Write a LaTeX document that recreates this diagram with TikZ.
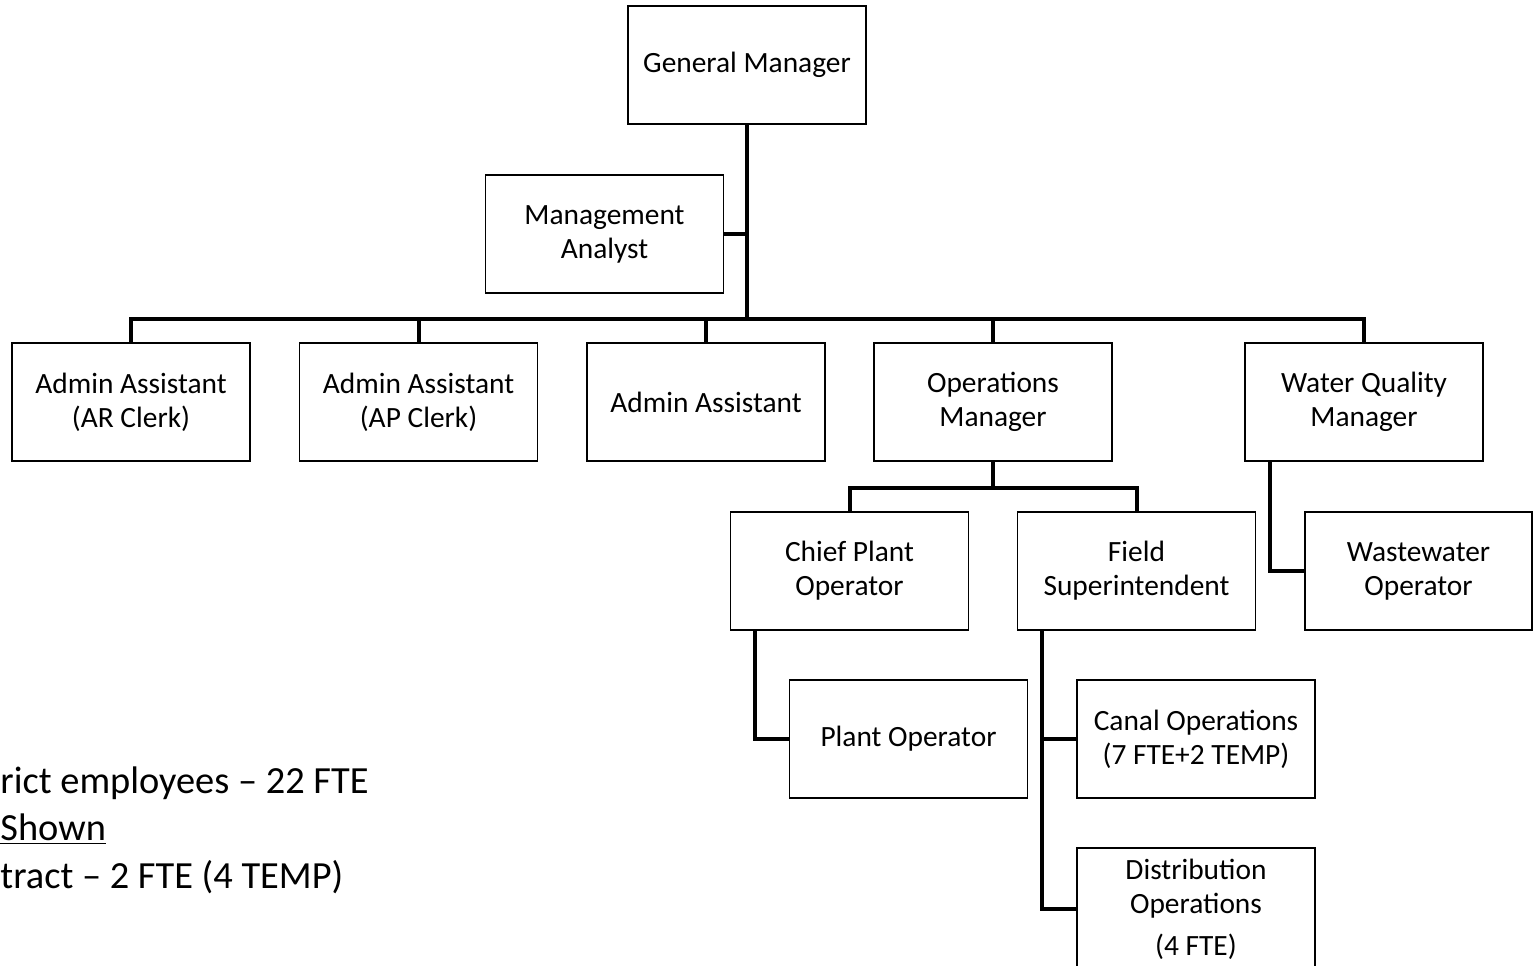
\documentclass[tikz,border=0pt]{standalone}
\usepackage{fontspec}
\setmainfont{Carlito}
\tikzset{
  post/.style={draw, line width=0.7pt, minimum width=119pt, minimum height=59pt,
               align=center, inner sep=2pt, font=\fontsize{14.7}{17}\selectfont},
  link/.style={line width=2pt, line join=miter},
  note/.style={anchor=base west, inner sep=0pt, font=\fontsize{19.2}{23.5}\selectfont},
}

\begin{document}
\begin{tikzpicture}[x=0.5pt, y=-0.5pt]
            \useasboundingbox (0,0) rectangle (1533,965);
            % Top of the chart
            \node[post] (gm)      at ( 747.0,  65) {General Manager};
            \node[post] (ma)      at ( 604.5, 234) {Management\\Analyst};
            % Direct reports
            \node[post] (arclerk) at ( 131.0, 402) {Admin Assistant\\(AR Clerk)};
            \node[post] (apclerk) at ( 418.5, 402) {Admin Assistant\\(AP Clerk)};
            \node[post] (admin)   at ( 706.0, 402) {Admin Assistant};
            \node[post] (ops)     at ( 993.0, 402) {Operations\\Manager};
            \node[post] (wqm)     at (1364.0, 402) {Water Quality\\Manager};
            % Second level
            \node[post] (cpo)     at ( 849.5, 571) {Chief Plant\\Operator};
            \node[post] (fs)      at (1136.5, 571) {Field\\Superintendent};
            \node[post, minimum width=113.5pt] (ww) at (1418.5, 571) {Wastewater\\Operator};
            % Third level
            \node[post] (plant)   at ( 908.5, 739) {Plant Operator};
            \node[post] (canal)   at (1196.0, 739) {Canal Operations\\(7 FTE+2 TEMP)};
            \node[post, minimum height=61pt] (dist) at (1196.0, 909) {Distribution\\Operations\\[4pt](4 FTE)};
            % Connectors
            \draw[link] (ma.east) -- (ma.east -| gm.south);
            \foreach \kid in {arclerk, apclerk, admin, ops, wqm}
                \draw[link] (gm.south) -- ++(0,194) -| (\kid.north);
            \foreach \kid in {cpo, fs}
                \draw[link] (ops.south) -- ++(0,26) -| (\kid.north);
            \draw[link] ([xshift=-47.5pt]cpo.south) |- (plant.west);
            \draw[link] ([xshift=-47.5pt]fs.south)  |- (canal.west);
            \draw[link] ([xshift=-47.5pt]fs.south)  |- (dist.west);
            \draw[link] ([xshift=-47pt]wqm.south)   |- (ww.west);
            % Head count note
            \node[note] (note1) at (0, 793) {rict employees – 22 FTE};
            \node[note] (note2) at (0, 840) {\underline{Shown}};
            \node[note] (note3) at (0, 888) {tract – 2 FTE (4 TEMP)};
        \end{tikzpicture}
\end{document}
